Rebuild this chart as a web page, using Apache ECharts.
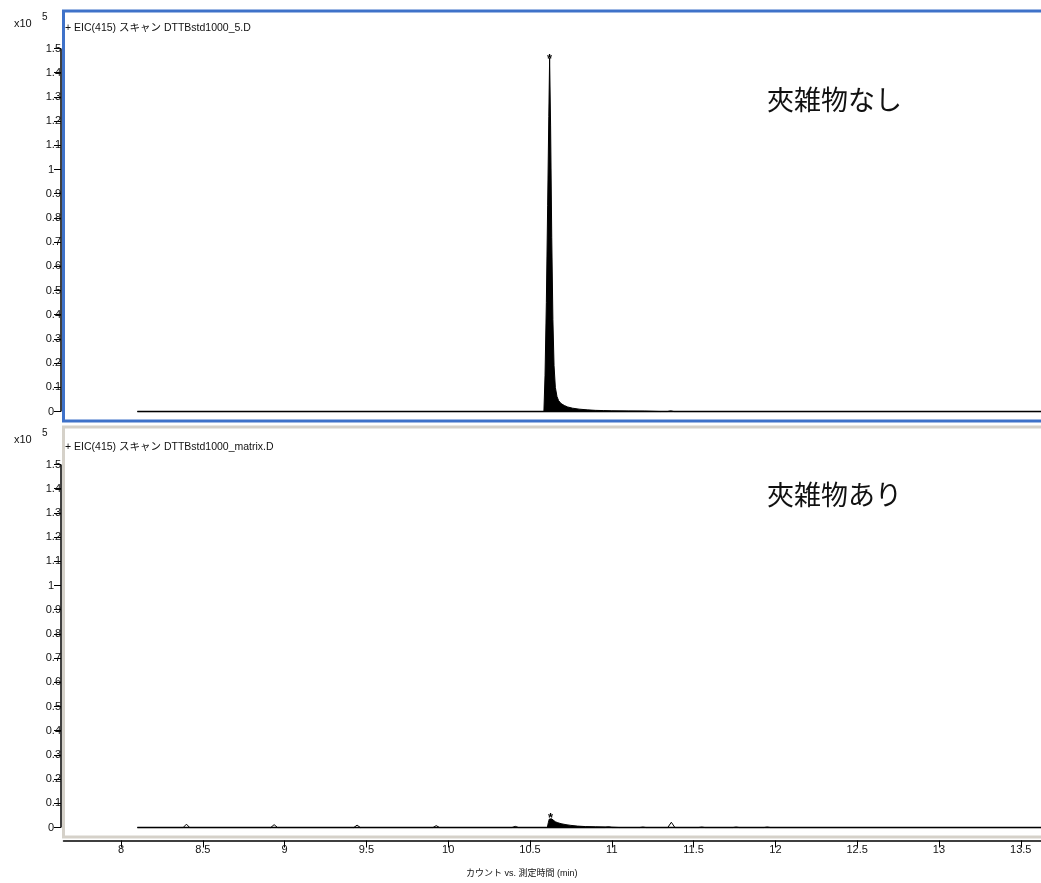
<!DOCTYPE html>
<html>
<head>
<meta charset="utf-8">
<script src="https://cdn.jsdelivr.net/npm/echarts@6/dist/echarts.min.js"></script>
<style>
  html, body { margin: 0; padding: 0; background: #fff; }
  #chart { width: 1041px; height: 883px; }
</style>
</head>
<body>
<div id="chart"></div>
<script>
// Retention time axis (min)
const timeRange = [7.6485, 13.642];
const timeTicks = [8, 8.5, 9, 9.5, 10, 10.5, 11, 11.5, 12, 12.5, 13, 13.5];
// Counts axis (x10^5)
const countRange = [-0.039, 1.655];
const countTicks = [0, 0.1, 0.2, 0.3, 0.4, 0.5, 0.6, 0.7, 0.8, 0.9, 1, 1.1, 1.2, 1.3, 1.4, 1.5];
const traceSpan = [8.1, 13.642];

// EIC(415) DTTBstd1000_5.D : trace outside the main peak
const stdTrace = [
  [8.1, 0], [11.3, 0], [11.34, 0], [11.36, 0.003], [11.38, 0], [13.642, 0]
];
// EIC(415) DTTBstd1000_5.D : integrated peak (filled)
const stdPeak = [
  [10.585, 0], [10.592, 0.15], [10.600, 0.45], [10.608, 0.85], [10.615, 1.22],
  [10.620, 1.46], [10.626, 1.18], [10.633, 0.72], [10.640, 0.38], [10.647, 0.19],
  [10.655, 0.10], [10.665, 0.062], [10.675, 0.045], [10.69, 0.033], [10.71, 0.025],
  [10.73, 0.019], [10.76, 0.014], [10.80, 0.010], [10.85, 0.007], [10.90, 0.005],
  [10.95, 0.004], [11.0, 0.003], [11.1, 0.0025], [11.2, 0.002], [11.3, 0]
];

// EIC(415) DTTBstd1000_matrix.D : trace with small interfering peaks
const matrixTrace = [
  [8.1, 0], [8.38, 0], [8.40, 0.014], [8.42, 0],
  [8.915, 0], [8.936, 0.012], [8.957, 0],
  [9.423, 0], [9.443, 0.010], [9.463, 0],
  [9.907, 0], [9.927, 0.008], [9.947, 0],
  [10.39, 0], [10.41, 0.005], [10.43, 0],
  [10.96, 0], [10.98, 0.003], [11.0, 0],
  [11.17, 0], [11.19, 0.002], [11.21, 0],
  [11.342, 0], [11.364, 0.022], [11.386, 0],
  [11.53, 0], [11.55, 0.002], [11.57, 0],
  [11.74, 0], [11.76, 0.002], [11.78, 0],
  [11.93, 0], [11.95, 0.002], [11.97, 0],
  [13.642, 0]
];
// EIC(415) DTTBstd1000_matrix.D : integrated peak (filled)
const matrixPeak = [
  [10.606, 0], [10.612, 0.02], [10.618, 0.035], [10.626, 0.040], [10.632, 0.036],
  [10.64, 0.029], [10.655, 0.024], [10.67, 0.020], [10.69, 0.016], [10.72, 0.012],
  [10.75, 0.009], [10.79, 0.006], [10.84, 0.004], [10.9, 0.003], [10.98, 0.002], [11.05, 0]
];

const panelTitles = ['+ EIC(415) スキャン DTTBstd1000_5.D', '+ EIC(415) スキャン DTTBstd1000_matrix.D'];
const panelNotes = ['夾雑物なし', '夾雑物あり'];
const xAxisTitle = 'カウント vs. 測定時間 (min)';

const latin = '"Liberation Sans", Arial, "Noto Sans CJK JP", sans-serif';
const cjk = '"Noto Sans CJK JP", sans-serif';

const grids = [
  { left: 63.5, top: 11, width: 980.5, height: 410, border: '#3f72c9', titleTop: 23, noteTop: 86 },
  { left: 63.5, top: 427, width: 980.5, height: 410, border: '#d5d1c9', titleTop: 442, noteTop: 481 }
];

// apex of a peak, marked with an asterisk
function apexOf(peak) {
  let top = 0;
  peak.forEach((p, i) => { if (p[1] > peak[top][1]) top = i; });
  return peak[top];
}

function yLabelFormatter(v) {
  return Number.isInteger(v) ? '{i|' + v + '}' : '{d|' + v + '}';
}

const chart = echarts.init(document.getElementById('chart'), null, { renderer: 'canvas' });

const option = {
  animation: false,
  backgroundColor: '#fff',
  grid: grids.map(g => ({
    left: g.left, top: g.top, width: g.width, height: g.height,
    outerBoundsMode: 'none', containLabel: false,
    show: true, borderColor: g.border, borderWidth: 3, backgroundColor: 'transparent'
  })),
  xAxis: [0, 1].map(i => ({
    gridIndex: i, type: 'value', min: timeRange[0], max: timeRange[1],
    show: i === 1, position: 'bottom', offset: 3.5,
    axisLine: { show: true, onZero: false, lineStyle: { color: '#000', width: 1.5 } },
    axisTick: { show: true, customValues: timeTicks, length: 7, lineStyle: { color: '#000', width: 1 } },
    axisLabel: { show: true, customValues: timeTicks, margin: 4, fontSize: 11, color: '#111', fontFamily: latin,
                 hideOverlap: false },
    splitLine: { show: false }
  })),
  yAxis: [0, 1].map(i => ({
    gridIndex: i, type: 'value', min: countRange[0], max: countRange[1],
    offset: 2.5,
    axisLine: { show: false },
    axisTick: { show: true, customValues: countTicks, length: 7, lineStyle: { color: '#000', width: 1 } },
    axisLabel: {
      show: true, customValues: countTicks, margin: 0, formatter: yLabelFormatter,
      rich: {
        i: { fontSize: 11, color: '#111', fontFamily: latin, padding: [0, 7, 0, 0] },
        d: { fontSize: 11, color: '#111', fontFamily: latin }
      }
    },
    splitLine: { show: false }
  })),
  series: []
};

[[stdTrace, stdPeak], [matrixTrace, matrixPeak]].forEach(([trace, peak], i) => {
  option.series.push({
    type: 'line', xAxisIndex: i, yAxisIndex: i, data: [[traceSpan[0], 0], [traceSpan[1], 0]],
    showSymbol: false, silent: true, lineStyle: { color: '#000', width: 1.5 }, z: 2
  });
  option.series.push({
    type: 'line', xAxisIndex: i, yAxisIndex: i, data: trace,
    showSymbol: false, silent: true, lineStyle: { color: '#000', width: 1 }, z: 3
  });
  option.series.push({
    type: 'line', xAxisIndex: i, yAxisIndex: i, data: peak,
    showSymbol: false, silent: true,
    lineStyle: { color: '#000', width: 1 },
    areaStyle: { color: '#000', opacity: 1 }, z: 4,
    markPoint: {
      silent: true, symbol: 'circle', symbolSize: 1,
      itemStyle: { color: 'rgba(0,0,0,0)' },
      label: { show: true, formatter: '*', position: 'top', distance: -8,
               fontSize: 13, fontWeight: 'bold', color: '#000', fontFamily: latin },
      data: [{ coord: apexOf(peak) }]
    }
  });
});

chart.setOption(option);

// static texts and the y axis spines (drawn from 0 to 1.5)
const graphic = [];
grids.forEach((g, i) => {
  const y0 = chart.convertToPixel({ yAxisIndex: i }, 0);
  const y1 = chart.convertToPixel({ yAxisIndex: i }, 1.5);
  graphic.push({
    type: 'line', shape: { x1: 61, y1: y0, x2: 61, y2: y1 },
    style: { stroke: '#000', lineWidth: 1.5 }, z: 10
  });
  graphic.push({
    type: 'text', left: 14, top: g.top + 7,
    style: { text: 'x10', fontSize: 11, fill: '#111', fontFamily: latin }
  });
  graphic.push({
    type: 'text', left: 42, top: g.top + 1,
    style: { text: '5', fontSize: 10, fill: '#111', fontFamily: latin }
  });
  graphic.push({
    type: 'text', left: 65, top: g.titleTop,
    style: { text: panelTitles[i], fontSize: 10.5, fill: '#111', fontFamily: latin }
  });
  graphic.push({
    type: 'text', left: 767, top: g.noteTop,
    style: { text: panelNotes[i], fontSize: 27, fill: '#111', fontFamily: cjk }
  });
});
graphic.push({
  type: 'text', left: 466, top: 869,
  style: { text: xAxisTitle, fontSize: 9, fill: '#111', fontFamily: latin }
});
chart.setOption({ graphic: graphic });
</script>
</body>
</html>
